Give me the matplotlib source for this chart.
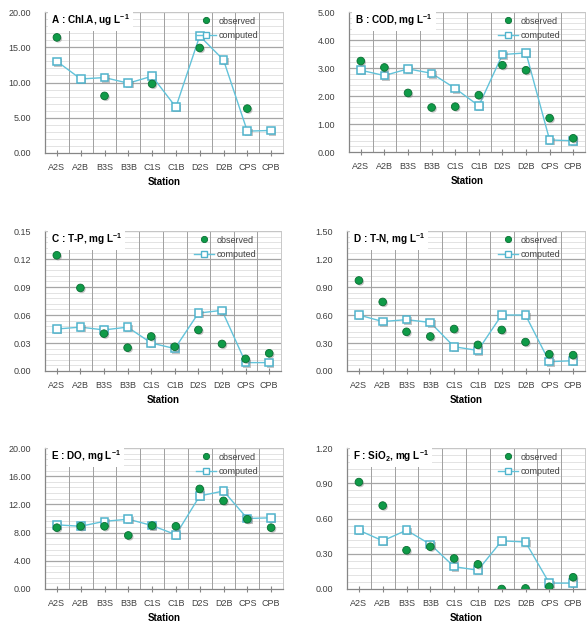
import numpy as np
import matplotlib.pyplot as plt
import matplotlib.patheffects as pe
from matplotlib.ticker import MultipleLocator, FormatStrFormatter

plt.rcParams['font.family'] = ['Liberation Sans', 'DejaVu Sans']
plt.rcParams['mathtext.default'] = 'regular'

nan = np.nan
stations = ['A2S', 'A2B', 'B3S', 'B3B', 'C1S', 'C1B', 'D2S', 'D2B', 'CPS', 'CPB']

# observed / computed values per station
chla_obs = [16.4, nan, 8.1, nan, 9.8, nan, 14.9, nan, 6.3, nan]
chla_cmp = [13.0, 10.5, 10.7, 9.9, 10.9, 6.5, 16.6, 13.2, 3.1, 3.2]
cod_obs = [3.25, 3.02, 2.11, 1.59, 1.62, 2.03, 3.10, 2.92, 1.21, 0.49]
cod_cmp = [2.92, 2.73, 2.97, 2.81, 2.27, 1.65, 3.48, 3.54, 0.43, 0.40]
tp_obs = [0.124, 0.089, 0.040, 0.025, 0.037, 0.026, 0.044, 0.029, 0.013, 0.019]
tp_cmp = [0.045, 0.047, 0.044, 0.047, 0.030, 0.024, 0.062, 0.065, 0.009, 0.009]
tn_obs = [0.97, 0.74, 0.42, 0.37, 0.45, 0.28, 0.44, 0.31, 0.18, 0.17]
tn_cmp = [0.60, 0.53, 0.55, 0.52, 0.26, 0.22, 0.60, 0.60, 0.10, 0.11]
do_obs = [8.7, 8.9, 8.9, 7.6, 9.0, 8.9, 14.2, 12.5, 9.9, 8.7]
do_cmp = [9.1, 8.9, 9.6, 9.9, 9.0, 7.7, 13.2, 13.9, 10.0, 10.1]
si_obs = [0.91, 0.71, 0.33, 0.36, 0.26, 0.21, 0.0, 0.005, 0.02, 0.10]
si_cmp = [0.50, 0.41, 0.50, 0.38, 0.19, 0.16, 0.41, 0.40, 0.05, 0.05]

panels = [
    ('A : Chl.A, ug L$^{-1}$', chla_obs, chla_cmp, 20, 5),
    ('B : COD, mg L$^{-1}$', cod_obs, cod_cmp, 5, 1),
    ('C : T-P, mg L$^{-1}$', tp_obs, tp_cmp, 0.15, 0.03),
    ('D : T-N, mg L$^{-1}$', tn_obs, tn_cmp, 1.5, 0.3),
    ('E : DO, mg L$^{-1}$', do_obs, do_cmp, 20, 4),
    ('F : SiO$_2$, mg L$^{-1}$', si_obs, si_cmp, 1.2, 0.3),
]

W, H = 587, 622
# axes boxes in pixels: left, top, right, bottom
boxes = [
    (45, 12, 283, 153), (349, 12, 585, 152),
    (45, 231, 281, 371), (347, 231, 585, 371),
    (45, 448, 283, 589), (347, 448, 585, 589),
]

fig = plt.figure(figsize=(W / 100, H / 100), dpi=100)
x = np.arange(len(stations))
shadow = [pe.SimplePatchShadow(offset=(1.0, -1.0), shadow_rgbFace='#808080', alpha=0.45), pe.Normal()]

obs_color, obs_edge = '#0f9b48', '#0a6e33'
cmp_line, cmp_edge = '#62c3da', '#4fb3cc'

for (title, obs, cmp_, ymax, step), (l, t, r, b) in zip(panels, boxes):
    ax = fig.add_axes([l / W, 1 - b / H, (r - l) / W, (b - t) / H])
    ax.set_xlim(-0.5, len(stations) - 0.5)
    ax.set_ylim(0, ymax)

    # gridlines: minor/major horizontal, vertical between stations
    ax.yaxis.set_major_locator(MultipleLocator(step))
    ax.yaxis.set_major_formatter(FormatStrFormatter('%.2f'))
    for yv in np.arange(step / 5, ymax + 1e-9, step / 5):
        major = abs(yv / step - round(yv / step)) < 1e-6
        ax.axhline(yv, color='#a6a6a6' if major else '#dedede', lw=0.9 if major else 0.6, zorder=0)
    for xv in np.arange(0.5, len(stations) - 0.5, 1):
        ax.axvline(xv, color='#a0a0a0', lw=0.7, zorder=0)

    # computed: line, then markers with a drop shadow
    ax.plot(x, cmp_, '-', color=cmp_line, lw=1.0, zorder=2)
    ax.plot(x, cmp_, 's', mfc='white', mec=cmp_edge, mew=1.1, ms=5.5, zorder=3,
            path_effects=shadow)
    ax.plot(x, obs, 'o', color=obs_color, mec=obs_edge, mew=0.6, ms=5.5, zorder=4,
            path_effects=shadow)

    # legend proxies
    ax.plot([], [], 'o', color=obs_color, mec=obs_edge, mew=0.6, ms=4.5, label='observed')
    ax.plot([], [], '-s', color=cmp_line, lw=1.0, mfc='white', mec=cmp_edge, mew=1.0,
            ms=4.5, label='computed')

    ax.set_xticks(x)
    ax.set_xticklabels(stations)
    ax.tick_params(axis='x', direction='inout', length=5, color='#868686',
                   labelsize=6.5, labelcolor='#404040', pad=5)
    ax.tick_params(axis='y', which='both', length=0, labelsize=6.5,
                   labelcolor='#404040', pad=10)
    for s in ['left', 'bottom']:
        ax.spines[s].set_color('#868686')
        ax.spines[s].set_linewidth(0.9)
    for s in ['top', 'right']:
        ax.spines[s].set_color('#c8c8c8')
        ax.spines[s].set_linewidth(0.7)
    ax.set_xlabel('Station', fontsize=7, fontweight='bold', labelpad=3)

    ax.text(0.025, 1 - 8.5 / (b - t), title, transform=ax.transAxes, fontsize=7.2,
            fontweight='bold', ha='left', va='center', zorder=5,
            bbox=dict(boxstyle='square,pad=0.3', fc='white', ec='none'))
    ax.legend(loc='upper right', bbox_to_anchor=(0.93, 1.025), frameon=False,
              fontsize=6.5, handlelength=2.2, handletextpad=0.3, labelspacing=0.6,
              labelcolor='#404040')

fig.savefig('out.png', dpi=100)
